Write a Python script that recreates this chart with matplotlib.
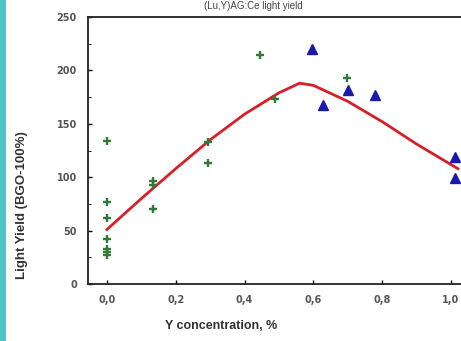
import matplotlib.pyplot as plt
from matplotlib.ticker import MultipleLocator, FuncFormatter
from matplotlib.patches import Rectangle

# green crosses
gx = [0.0, 0.0, 0.0, 0.0, 0.0, 0.0, 0.0, 0.134, 0.134, 0.134, 0.295, 0.295, 0.445, 0.488, 0.697]
gy = [134, 77, 62, 42, 33, 30, 27, 96, 93, 70, 113, 133, 214, 173, 193]

# blue triangles
bx = [0.595, 0.627, 0.70, 0.779, 1.012, 1.012]
by = [220, 168, 182, 177, 119, 99]

# red fit curve
fx = [0.0, 0.1, 0.2, 0.3, 0.4, 0.5, 0.56, 0.6, 0.7, 0.8, 0.9, 1.02]
fy = [51, 80, 108, 135, 159, 179, 188, 186, 171, 152, 131, 108]

xticks = [0.0, 0.2, 0.4, 0.6, 0.8, 1.0]

fig = plt.figure(figsize=(4.61, 3.41), dpi=100)
fig.patch.set_facecolor('white')
ax = fig.add_axes([88/461, 57/341, 384/461, 267/341])

ax.plot(fx, fy, color='#d61f26', lw=2, zorder=2)
ax.plot(gx, gy, '+', color='#2f7a35', ms=6, mew=1.7, zorder=3)
ax.plot(bx, by, '^', color='#1a1aa8', ms=7, zorder=3)

ax.set_xlim(-0.055, 1.061)
ax.set_ylim(0, 250)
ax.set_xticks(xticks)
ax.xaxis.set_major_formatter(FuncFormatter(lambda v, p: ('%.1f' % v).replace('.', ',')))
ax.yaxis.set_major_locator(MultipleLocator(50))
ax.yaxis.set_minor_locator(MultipleLocator(25))
ax.tick_params(direction='in', labelsize=7, labelcolor='#555555', length=3, width=1)
ax.tick_params(which='minor', direction='in', length=2)
ax.tick_params(axis='x', pad=8)
ax.tick_params(axis='y', pad=8)
for lab in ax.get_xticklabels() + ax.get_yticklabels():
    lab.set_fontweight('bold')
for s in ax.spines.values():
    s.set_linewidth(1.3)
    s.set_color('#222222')

fig.text(0.48, 0.035, 'Y concentration, %', ha='center', fontsize=9, fontweight='bold',
         color='#333333', family='Liberation Sans')
fig.text(0.048, 0.40, 'Light Yield (BGO-100%)', rotation=90, va='center', ha='center',
         fontsize=9.5, fontweight='bold', color='#333333', family='Liberation Sans')
fig.text(0.55, 0.998, '(Lu,Y)AG:Ce light yield', ha='center', va='top', fontsize=7,
         color='#444444', family='Liberation Sans')

fig.patches.append(Rectangle((0, 0), 6/461, 1, transform=fig.transFigure,
                             facecolor='#4fc3c8', edgecolor='none'))

fig.savefig('out.png', dpi=100)
